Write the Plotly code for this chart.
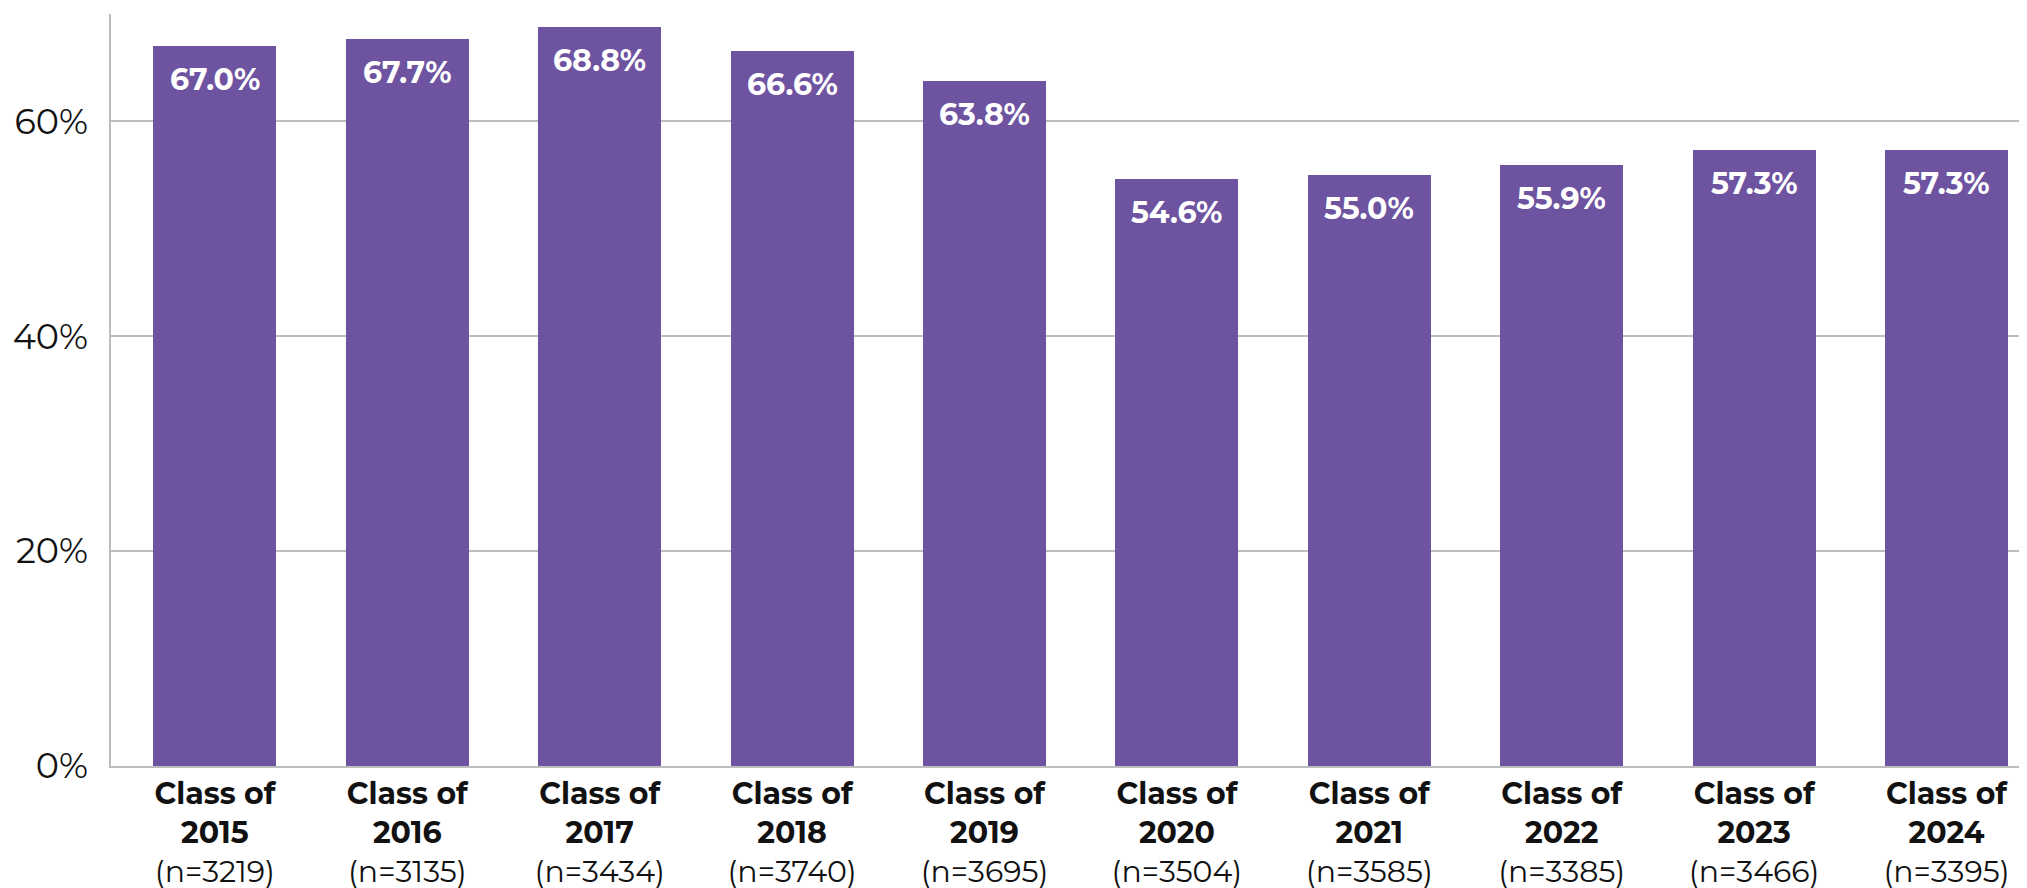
import plotly.graph_objects as go

years = ["2015", "2016", "2017", "2018", "2019", "2020", "2021", "2022", "2023", "2024"]
n_values = [3219, 3135, 3434, 3740, 3695, 3504, 3585, 3385, 3466, 3395]
rates = [67.0, 67.7, 68.8, 66.6, 63.8, 54.6, 55.0, 55.9, 57.3, 57.3]
y_ticks = [0, 20, 40, 60]
y_tick_labels = ["0%", "20%", "40%", "60%"]

FONT = "Montserrat, Lato, 'Open Sans', sans-serif"
BAR = "#6D53A0"
GRID = "#BDBDBD"

x = list(range(len(years)))
tick_text = [f"<b>Class of<br>{yr}</b><br>(n={n})" for yr, n in zip(years, n_values)]

fig = go.Figure()
fig.add_trace(go.Bar(x=x, y=rates, marker=dict(color=BAR, line=dict(width=0)),
                     width=0.64, hoverinfo="skip"))

for xi, v in zip(x, rates):
    fig.add_annotation(x=xi, y=v, text=f"<b>{v:.1f}%</b>", showarrow=False,
                       yanchor="top", yshift=-13, xanchor="center",
                       font=dict(family=FONT, size=30, color="white"))

fig.update_layout(
    width=2027, height=888,
    margin=dict(l=103, r=0, t=6, b=130),
    paper_bgcolor="white", plot_bgcolor="white",
    showlegend=False,
    font=dict(family=FONT, color="#111111"),
    bargap=0,
)
fig.update_xaxes(range=[-0.54, 9.46], tickmode="array", tickvals=x, ticktext=tick_text,
                 tickfont=dict(family=FONT, size=30, color="#111111"),
                 showgrid=False, showline=True, linecolor=GRID, linewidth=2,
                 ticks="", fixedrange=True, zeroline=False)
fig.update_yaxes(range=[0, 70], tickmode="array", tickvals=y_ticks, ticktext=y_tick_labels,
                 tickfont=dict(family=FONT, size=35, color="#111111"),
                 showgrid=True, gridcolor=GRID, gridwidth=2,
                 showline=True, linecolor=GRID, linewidth=2,
                 ticks="", ticklabelstandoff=14, zeroline=False)

fig.write_html("out.html")
